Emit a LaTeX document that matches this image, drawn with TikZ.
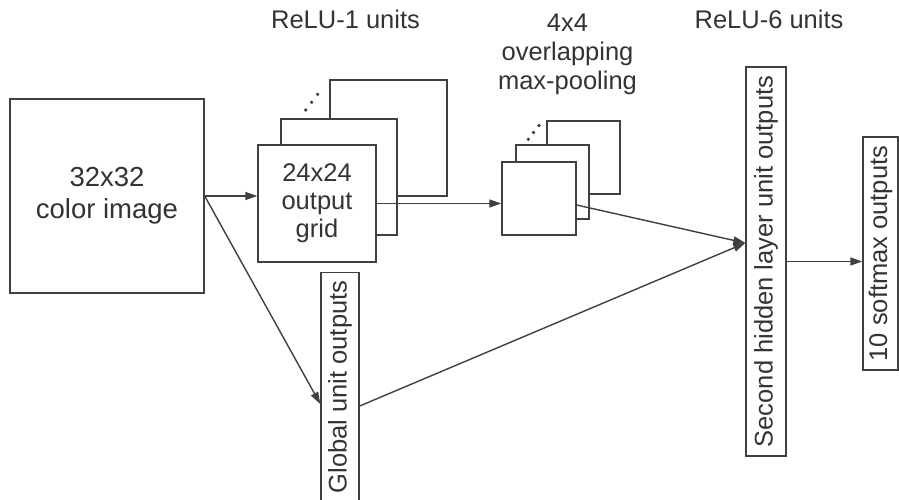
\documentclass[tikz,border=0pt]{standalone}
\usepackage{fontspec}
\setmainfont{Liberation Sans}
\usetikzlibrary{arrows.meta,calc}
\definecolor{ln}{HTML}{404040}
\definecolor{tx}{HTML}{333333}
\begin{document}
\begin{tikzpicture}[x=1pt,y=-1pt,
  box/.style={draw=ln,line width=1.4pt,fill=white,inner sep=0pt,text=tx,align=center,font=\fontsize{25.5}{28}\selectfont},
  lbl/.style={text=tx,inner sep=0pt,align=center,font=\fontsize{25.5}{29}\selectfont},
  conn/.style={draw=ln,line width=1.4pt},
  arr/.style={conn,-{Triangle[length=12pt,width=8pt]}}]
\useasboundingbox[fill=white] (0,0) rectangle (899,500);

% labels
\node[lbl,anchor=base] (l1) at (345.5,29) {ReLU-1 units};
\node[lbl,anchor=base] (l2) at (567.5,90) {4x4\\overlapping\\max-pooling};
\node[lbl,anchor=base] (l3) at (769,29) {ReLU-6 units};

% input image
\node[box,minimum width=194pt,minimum height=194pt,font=\fontsize{27.5}{31.5}\selectfont] (img) at (107,196) {32x32\\color image};

% ReLU-1 stack
\node[box,minimum width=117pt,minimum height=116pt] (f24c) at (388.5,138) {};
\node[box,minimum width=116pt,minimum height=116pt] (f24b) at (339,177) {};
\node[box,minimum width=118pt,minimum height=117pt] (f24) at (317,203.5) {24x24\\output\\grid};
\fill[ln] (305.7,110) circle (1.8) (311.7,102.3) circle (1.8) (317.7,94.3) circle (1.8);

% pooling stack
\node[box,minimum width=73pt,minimum height=73pt] (p4c) at (583.5,157.5) {};
\node[box,minimum width=73pt,minimum height=74pt] (p4b) at (552.5,182) {};
\node[box,minimum width=74pt,minimum height=73pt] (p4) at (539,198.5) {};
\fill[ln] (528.3,139.3) circle (1.8) (533.5,132.5) circle (1.8) (539,125.5) circle (1.8);

% global unit outputs (clipped at bottom)
\begin{scope}
\clip (0,0) rectangle (899,500);
\node[box,rotate=90,minimum width=229pt,minimum height=38pt] (glob) at (340,387) {Global unit outputs};
\end{scope}

% second hidden layer
\node[box,rotate=90,minimum width=389pt,minimum height=40pt] (sec) at (766,261.5) {Second hidden layer unit outputs};

% softmax
\node[box,rotate=90,minimum width=233pt,minimum height=35pt] (soft) at (880.5,253.5) {10 softmax outputs};

% connectors
\draw[arr] (img.east) -- (img.east -| f24.west);
\draw[arr] (img.east) -- ($(glob.north)+(0,17)$);
\draw[arr] (f24.east) -- (f24.east -| p4.west);
\draw[arr] ($(p4.east)+(0,6.5)$) -- ($(sec.north)+(0,-18.5)$);
\draw[arr] ($(glob.south)+(0,19)$) -- ($(sec.north)+(0,-18.5)$);
\draw[arr] (sec.south) -- (sec.south -| soft.north);
\end{tikzpicture}
\end{document}
